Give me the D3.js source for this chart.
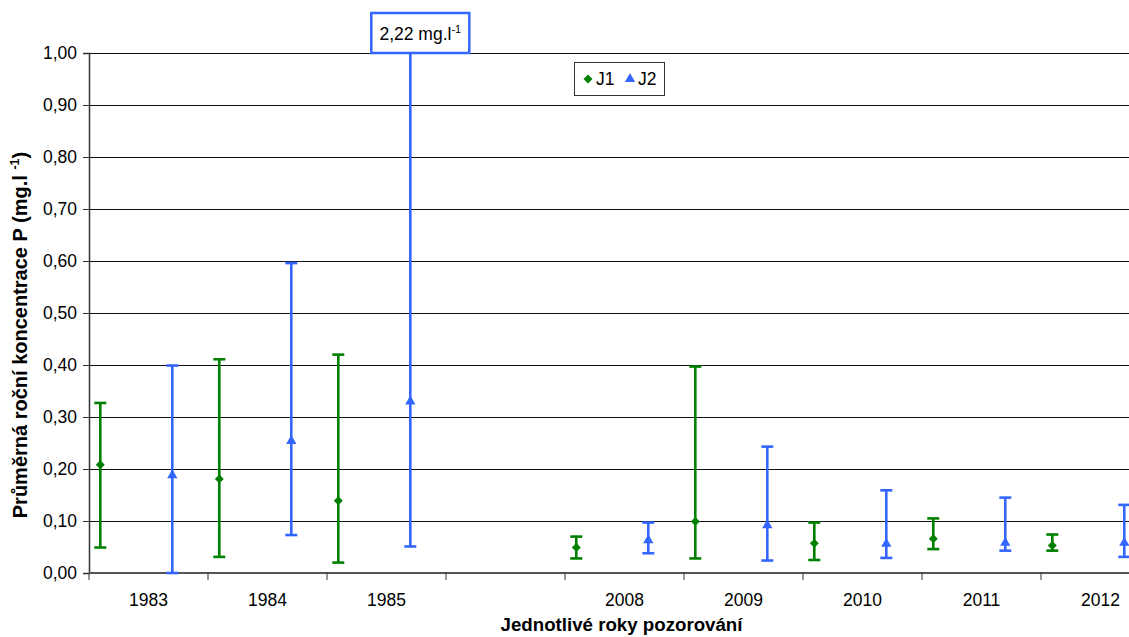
<!DOCTYPE html>
<html>
<head>
<meta charset="utf-8">
<script src="https://cdn.jsdelivr.net/npm/d3@7"></script>
<style>
  body { margin: 0; background: #fff; }
  svg { display: block; font-family: "Liberation Sans", Arial, sans-serif; }
  .tick text { font-size: 17.5px; fill: #000; }
</style>
</head>
<body>
<div id="vis"></div>
<script>
// category per year, one empty slot between 1985 and 2008
var years = ["1983", "1984", "1985", "", "2008", "2009", "2010", "2011", "2012"];

// J1 (green, diamond)
var j1Mean = [0.208, 0.181, 0.139, null, 0.049, 0.099, 0.057, 0.066, 0.053];
var j1Low  = [0.049, 0.031, 0.020, null, 0.028, 0.028, 0.025, 0.046, 0.043];
var j1High = [0.327, 0.411, 0.420, null, 0.070, 0.397, 0.097, 0.105, 0.074];

// J2 (blue, triangle)
var j2Mean = [0.188, 0.254, 0.330, null, 0.063, 0.092, 0.056, 0.058, 0.058];
var j2Low  = [0.000, 0.073, 0.051, null, 0.038, 0.024, 0.029, 0.043, 0.031];
var j2High = [0.399, 0.596, 2.22,  null, 0.097, 0.243, 0.159, 0.145, 0.131];

var yTicks = [0, 0.1, 0.2, 0.3, 0.4, 0.5, 0.6, 0.7, 0.8, 0.9, 1.0];
var offLabel = "2,22 mg.l";

var w = 1129,
    h = 637,
    mLeft = 89,
    mTop = 53,
    mBottom = 573,
    catW = 119,
    green = "#008000",
    blue = "#3366ff";

var x = d3.scaleBand().domain(years).range([mLeft, mLeft + years.length * catW]).padding(0);
var y = d3.scaleLinear().domain([0, 1]).range([mBottom, mTop]);
var fmt = function(d) { return d3.format(".2f")(d).replace(".", ","); };

var svg = d3.select("#vis").append("svg")
    .attr("width", w)
    .attr("height", h);

// gridlines
svg.selectAll(".grid")
    .data(yTicks.slice(1))
    .enter().append("line")
    .attr("class", "grid")
    .attr("x1", mLeft).attr("x2", w)
    .attr("y1", function(d) { return Math.round(y(d)) + 0.5; })
    .attr("y2", function(d) { return Math.round(y(d)) + 0.5; })
    .attr("stroke", "#111")
    .attr("stroke-width", 1);

// y axis
var yAxis = svg.append("g")
    .attr("transform", "translate(" + mLeft + ",0)")
    .call(d3.axisLeft(y).tickValues(yTicks).tickFormat(fmt).tickSize(6).tickPadding(6));
yAxis.select(".domain").attr("stroke", "#333").attr("stroke-width", 1.5);
yAxis.selectAll(".tick line").attr("stroke", "#333");

// x axis: ticks at category boundaries, labels centred
var xAxis = svg.append("g")
    .attr("transform", "translate(0," + mBottom + ")");
xAxis.append("line")
    .attr("x1", mLeft).attr("x2", w)
    .attr("stroke", "#555").attr("stroke-width", 2);
xAxis.selectAll(".xtick")
    .data(years)
    .enter().append("line")
    .attr("class", "xtick")
    .attr("x1", function(d) { return x(d); })
    .attr("x2", function(d) { return x(d); })
    .attr("y1", 0).attr("y2", 7)
    .attr("stroke", "#333");
xAxis.selectAll(".xlabel")
    .data(years)
    .enter().append("text")
    .attr("class", "xlabel")
    .attr("x", function(d) { return x(d) + x.bandwidth() / 2; })
    .attr("y", 33)
    .attr("text-anchor", "middle")
    .style("font-size", "17.5px")
    .text(function(d) { return d; });

// clip for the bar going off the scale
svg.append("clipPath").attr("id", "plotclip")
    .append("rect")
    .attr("x", 0).attr("y", y(1) - 5)
    .attr("width", w).attr("height", h);

var series = [
    { name: "J1", mean: j1Mean, lo: j1Low, hi: j1High, color: green, off: 0.095, sym: "diamond" },
    { name: "J2", mean: j2Mean, lo: j2Low, hi: j2High, color: blue, off: 0.70, sym: "triangle" }
];

function symbolPath(kind) {
    if (kind === "diamond") return d3.symbol().type(d3.symbolSquare).size(40)();
    return d3.symbol().type(d3.symbolTriangle).size(46)();
}

var plot = svg.append("g").attr("clip-path", "url(#plotclip)");

series.forEach(function(s) {
    var pts = years.map(function(yr, i) {
        return { cx: x(yr) + x.bandwidth() * s.off, m: s.mean[i], lo: s.lo[i], hi: s.hi[i] };
    }).filter(function(d) { return d.m != null; });

    var g = plot.append("g").attr("class", "series-" + s.name);
    g.selectAll(".bar").data(pts).enter().append("line")
        .attr("x1", function(d) { return d.cx; })
        .attr("x2", function(d) { return d.cx; })
        .attr("y1", function(d) { return y(d.lo); })
        .attr("y2", function(d) { return y(d.hi); })
        .attr("stroke", s.color).attr("stroke-width", 2.6);
    g.selectAll(".capLo").data(pts).enter().append("line")
        .attr("x1", function(d) { return d.cx - 6; })
        .attr("x2", function(d) { return d.cx + 6; })
        .attr("y1", function(d) { return y(d.lo); })
        .attr("y2", function(d) { return y(d.lo); })
        .attr("stroke", s.color).attr("stroke-width", 2.6);
    g.selectAll(".capHi").data(pts.filter(function(d) { return d.hi <= 1; })).enter().append("line")
        .attr("x1", function(d) { return d.cx - 6; })
        .attr("x2", function(d) { return d.cx + 6; })
        .attr("y1", function(d) { return y(d.hi); })
        .attr("y2", function(d) { return y(d.hi); })
        .attr("stroke", s.color).attr("stroke-width", 2.6);
    g.selectAll(".mark").data(pts).enter().append("path")
        .attr("d", symbolPath(s.sym))
        .attr("transform", function(d) {
            return "translate(" + d.cx + "," + y(d.m) + ")" + (s.sym === "diamond" ? " rotate(45)" : "");
        })
        .attr("fill", s.color);
});

// label box for the off-scale value (1985, J2)
var offX = x("1985") + x.bandwidth() * 0.70;
var lab = svg.append("g").attr("transform", "translate(" + offX + "," + (y(1) - 20) + ")");
lab.append("rect")
    .attr("x", -39).attr("y", -20)
    .attr("width", 98).attr("height", 40)
    .attr("fill", "#fff")
    .attr("stroke", blue).attr("stroke-width", 2.5);
var lt = lab.append("text")
    .attr("x", 10).attr("y", 7)
    .attr("text-anchor", "middle")
    .style("font-size", "17.5px");
lt.append("tspan").text(offLabel);
lt.append("tspan").attr("dy", -7).style("font-size", "11px").text("-1");

// legend
var leg = svg.append("g").attr("transform", "translate(574,62)");
leg.append("rect")
    .attr("x", 0.5).attr("y", 0.5)
    .attr("width", 90).attr("height", 33)
    .attr("fill", "#fff").attr("stroke", "#333").attr("stroke-width", 1);
series.forEach(function(s, i) {
    var gx = 14 + i * 42;
    leg.append("path")
        .attr("d", symbolPath(s.sym))
        .attr("transform", "translate(" + gx + ",17)" + (s.sym === "diamond" ? " rotate(45)" : ""))
        .attr("fill", s.color);
    leg.append("text")
        .attr("x", gx + 8).attr("y", 23)
        .style("font-size", "17.5px")
        .text(s.name);
});

// axis titles
svg.append("text")
    .attr("x", (mLeft + mLeft + years.length * catW) / 2 - 3)
    .attr("y", 631)
    .attr("text-anchor", "middle")
    .style("font-size", "18.7px").style("font-weight", "bold")
    .text("Jednotlivé roky pozorování");

var yt = svg.append("text")
    .attr("transform", "translate(27,335) rotate(-90)")
    .attr("text-anchor", "middle")
    .style("font-size", "20px").style("font-weight", "bold");
yt.append("tspan").text("Průměrná roční koncentrace P (mg.l ");
yt.append("tspan").attr("dy", -8).style("font-size", "12.5px").text("-1");
yt.append("tspan").attr("dy", 8).text(")");
</script>
</body>
</html>
